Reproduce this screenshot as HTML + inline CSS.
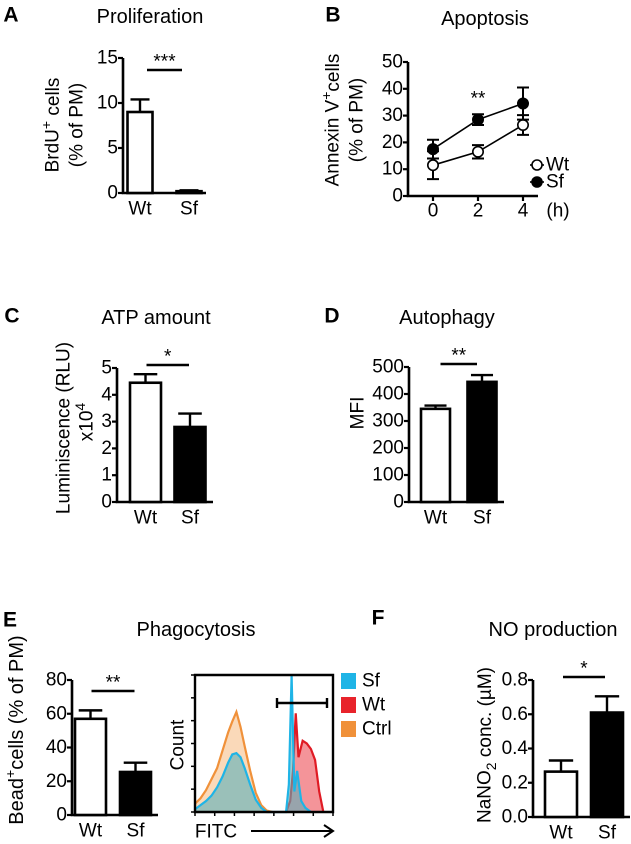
<!DOCTYPE html>
<html><head><meta charset="utf-8"><style>
html,body{margin:0;padding:0;background:#fff;}
svg{display:block;font-family:"Liberation Sans",Arial,sans-serif;}
</style></head><body>
<svg id="fig" width="631" height="844" viewBox="0 0 631 844" xmlns="http://www.w3.org/2000/svg"></svg>
<script>
// ---- data ----
const barCats = ['Wt','Sf'];
const aVals = [9, 0.2];
const aErrs = [1.4, 0.1];
const aTicks = [0,5,10,15];
const cVals = [4.45, 2.8];
const cErrs = [0.32, 0.5];
const cTicks = [0,1,2,3,4,5];
const dVals = [345, 445];
const dErrs = [12, 25];
const dTicks = [0,100,200,300,400,500];
const eVals = [57, 25.5];
const eErrs = [5, 5.5];
const eTicks = [0,20,40,60,80];
const fVals = [0.265, 0.61];
const fErrs = [0.065, 0.095];
const fTicks = ['0.0','0.2','0.4','0.6','0.8'];
const bTimes = [0,2,4];
const bTickLabels = ['0','2','4'];
const bWt = [11.5, 16.5, 26.5];
const bWtErr = [5.2, 2.5, 3.7];
const bSf = [17.5, 28.5, 34.5];
const bSfErr = [3.5, 2, 6];
const bYTicks = [0,10,20,30,40,50];
const histCtrlX = [0,4,8,12,16,20,24,27,30,33,36,40,44,48,52,56];
const histCtrlY = [6,10,16,24,32,45,58,66,73,62,48,30,14,5,1,0];
const histSfX = [0,4,8,12,16,20,24,27,30,33,36,40,44,48,52,66,68,70,72,74,77,80,84];
const histSfY = [2,5,8,12,18,26,36,42,43,40,32,20,9,3,0,0,20,100,15,30,8,3,0];
const histWtX = [66,69,71,73,75,78,81,84,87,90,93];
const histWtY = [0,8,30,72,40,52,50,46,38,15,0];

const svg = document.getElementById('fig');
const NS = 'http://www.w3.org/2000/svg';
function mk(tag, attrs, parent){
  const e = document.createElementNS(NS, tag);
  for (const k in attrs) e.setAttribute(k, attrs[k]);
  (parent||svg).appendChild(e);
  return e;
}
function txt(s, x, y, size, anchor, parent, weight, rot){
  const t = mk('text', {x:x, y:y, 'font-size':size, 'text-anchor':anchor||'middle', fill:'#000', 'dominant-baseline':'central'}, parent);
  if (weight) t.setAttribute('font-weight', weight);
  if (rot) t.setAttribute('transform', 'rotate(-90 '+x+' '+y+')');
  t.textContent = s;
  return t;
}

function barPanel(name, o, vals, errs, ticks){
  const g = mk('g', {});
  
  
  const tv = ticks.map(Number);
  const maxV = tv[tv.length-1];
  const y = v => o.y0 - (v/maxV)*(o.y0 - o.yTop);
  const ax = mk('path', {d:'M'+o.ax+' '+o.yTop+' V'+o.y0+' H'+o.xEnd, stroke:'#000','stroke-width':2.6, fill:'none'}, g);
  
  
  ticks.forEach((t,i)=>{
    const yy = y(tv[i]);
    mk('line', {x1:o.ax-5, x2:o.ax, y1:yy, y2:yy, stroke:'#000','stroke-width':2.2}, g);
    const lt = txt(String(t), o.ax-5, yy, 19, 'end', g);
    
    
  });
  vals.forEach((v,i)=>{
    const cx = o.c0 + i*o.sp;
    const r = mk('rect', {x:cx-o.bw/2, y:y(v), width:o.bw, height:o.y0-y(v), fill:i===0?'#fff':'#000', stroke:'#000','stroke-width':2.6}, g);
    
    
    const et = y(v+errs[i]);
    const eb = mk('path', {d:'M'+cx+' '+y(v)+' V'+et+' M'+(cx-o.bw*0.38)+' '+et+' H'+(cx+o.bw*0.38), stroke:'#000','stroke-width':2.4, fill:'none'}, g);
    
    
    const xl = txt(barCats[i], cx, o.y0+16, 19, 'middle', g);
    
    
  });
  const c0 = o.c0, c1 = o.c0 + o.sp;
  mk('line', {x1:c0+o.sigIn, x2:c1-o.sigIn, y1:o.sigY, y2:o.sigY, stroke:'#000','stroke-width':2.6}, g);
  const st = txt(o.sig, (c0+c1)/2, o.sigY-8, 19, 'middle', g);
  
  
  return g;
}

[['A',11,15],['B',333,15],['C',12,316],['D',332,316],['E',10,620],['F',378,618]].forEach(p=>{
  const t = txt(p[0], p[1], p[2], 21, 'middle', svg, 'bold');
  
  
});
[['Proliferation',150,17],['Apoptosis',485,19],['ATP amount',156,318],['Autophagy',447,318],['Phagocytosis',196,630],['NO production',553,630]].forEach(p=>{
  const t = txt(p[0], p[1], p[2], 20, 'middle');
  
  
});

barPanel('panel-a-proliferation', {ax:123, y0:193, yTop:58, xEnd:206, c0:140, sp:49, bw:25, sigY:70, sigIn:7, sig:'***'}, aVals, aErrs, aTicks);
let t;
t = mk('text', {x:0,y:0,'font-size':19,'text-anchor':'middle','dominant-baseline':'central',transform:'translate(53 125) rotate(-90)'});
t.innerHTML = 'BrdU<tspan dy="-7" font-size="14">+</tspan><tspan dy="7"> cells</tspan>';


t = txt('(% of PM)', 77, 125, 19, 'middle', svg, null, true);



barPanel('panel-c-atp', {ax:117, y0:502, yTop:368, xEnd:213, c0:145.5, sp:44.5, bw:31, sigY:365, sigIn:1, sig:'*'}, cVals, cErrs, cTicks);
t = txt('Luminiscence (RLU)', 64, 428, 19, 'middle', svg, null, true);


t = mk('text', {x:0,y:0,'font-size':19,'text-anchor':'middle','dominant-baseline':'central',transform:'translate(87 422) rotate(-90)'});
t.innerHTML = 'x10<tspan dy="-7" font-size="14">4</tspan>';



barPanel('panel-d-autophagy', {ax:409, y0:502, yTop:367, xEnd:504, c0:435.5, sp:46.5, bw:29, sigY:364, sigIn:5, sig:'**'}, dVals, dErrs, dTicks);
t = txt('MFI', 358, 413, 19, 'middle', svg, null, true);



barPanel('panel-e-phagocytosis', {ax:72, y0:815, yTop:680, xEnd:158, c0:90.5, sp:45, bw:31, sigY:691, sigIn:1, sig:'**'}, eVals, eErrs, eTicks);
t = mk('text', {x:0,y:0,'font-size':20,'text-anchor':'middle','dominant-baseline':'central',transform:'translate(17 730) rotate(-90)'});
t.innerHTML = 'Bead<tspan dy="-7" font-size="14">+</tspan><tspan dy="7">cells (% of PM)</tspan>';



barPanel('panel-f-no-production', {ax:533, y0:817, yTop:680, xEnd:630, c0:561, sp:46, bw:32, sigY:677, sigIn:2, sig:'*'}, fVals, fErrs, fTicks);
t = mk('text', {x:0,y:0,'font-size':19,'text-anchor':'middle','dominant-baseline':'central',transform:'translate(485 745) rotate(-90)'});
t.innerHTML = 'NaNO<tspan dy="6" font-size="14">2</tspan><tspan dy="-6"> conc. (µM)</tspan>';



(function(){
  const g = mk('g', {});
  
  
  const ax=408, y0=196, yTop=62, xEnd=538;
  const y = v => y0 - v/50*(y0-yTop);
  const x = h => 433 + h/4*(523-433);
  const a = mk('path', {d:'M'+ax+' '+yTop+' V'+y0+' H'+xEnd, stroke:'#000','stroke-width':2.6, fill:'none'}, g);
  
  
  bYTicks.forEach(v=>{
    mk('line',{x1:ax-5,x2:ax,y1:y(v),y2:y(v),stroke:'#000','stroke-width':2.2},g);
    const l = txt(String(v), ax-5, y(v), 19, 'end', g);
    
    
  });
  bTimes.forEach((h,i)=>{
    mk('line',{x1:x(h),x2:x(h),y1:y0,y2:y0+5,stroke:'#000','stroke-width':2.2},g);
    const l = txt(bTickLabels[i], x(h), 211, 19, 'middle', g);
    
    
  });
  const hl = txt('(h)', 558, 211, 19, 'middle', g);
  
  
  function series(vals, errs, fill, nm){
    const sg = mk('g',{},g);
    
    
    mk('polyline',{points:vals.map((v,i)=>x(bTimes[i])+','+y(v)).join(' '),fill:'none',stroke:'#000','stroke-width':1.6},sg);
    vals.forEach((v,i)=>{
      const cx=x(bTimes[i]);
      mk('path',{d:'M'+cx+' '+y(v-errs[i])+' V'+y(v+errs[i])+' M'+(cx-6)+' '+y(v-errs[i])+' H'+(cx+6)+' M'+(cx-6)+' '+y(v+errs[i])+' H'+(cx+6),stroke:'#000','stroke-width':2,fill:'none'},sg);
      const c = mk('circle',{cx:cx,cy:y(v),r:5.2,fill:fill,stroke:'#000','stroke-width':1.6},sg);
      
      
    });
  }
  series(bWt, bWtErr, '#fff', 'wt');
  series(bSf, bSfErr, '#000', 'sf');
  const s = txt('**', x(2), 99, 19, 'middle', g);
  
  
  [['Wt','#fff',165],['Sf','#000',182]].forEach(L=>{
    const lg = mk('g',{},g);
    
    
    mk('line',{x1:530,x2:544,y1:L[2],y2:L[2],stroke:'#000','stroke-width':1.6},lg);
    mk('circle',{cx:537,cy:L[2],r:5,fill:L[1],stroke:'#000','stroke-width':1.6},lg);
    txt(L[0],546,L[2],19,'start',lg);
  });
  let yt = mk('text', {x:0,y:0,'font-size':19,'text-anchor':'middle','dominant-baseline':'central',transform:'translate(333 120) rotate(-90)'});
  yt.innerHTML = 'Annexin V<tspan dy="-7" font-size="14">+</tspan><tspan dy="7">cells</tspan>';
  
  
  yt = txt('(% of PM)', 357, 120, 19, 'middle', svg, null, true);
  
  
})();

(function(){
  const g = mk('g', {});
  
  
  const L=195, R=333, T=675, B=812;
  const x = v => L + v/100*(R-L);
  const y = v => B - v/100*(B-T);
  function area(xs, ys, fill, stroke, nm){
    let d = 'M'+x(xs[0])+' '+B+' ';
    xs.forEach((v,i)=>{ d += 'L'+x(v)+' '+y(ys[i])+' '; });
    d += 'L'+x(xs[xs.length-1])+' '+B+' Z';
    const p = mk('path',{d:d,fill:fill,stroke:'none'},g);
    
    
    const l = mk('polyline',{points:xs.map((v,i)=>x(v)+','+y(ys[i])).join(' '),fill:'none',stroke:stroke,'stroke-width':2.2},g);
    
    
  }
  area(histCtrlX, histCtrlY, 'rgba(244,170,100,0.45)', '#f0913a', 'ctrl');
  area(histWtX, histWtY, 'rgba(235,60,70,0.55)', '#e01b24', 'wt');
  area(histSfX, histSfY, 'rgba(90,175,185,0.6)', '#1fb4e6', 'sf');
  const box = mk('path',{d:'M'+L+' '+T+' H'+R+' V'+B+' H'+L+' Z',fill:'none',stroke:'#000','stroke-width':2.4},g);
  
  
  for(let i=0;i<=6;i++){ const yy=T+i*(B-T)/6; mk('line',{x1:L-4,x2:L,y1:yy,y2:yy,stroke:'#000','stroke-width':1.5},g); }
  for(let i=0;i<=7;i++){ const xx=L+i*(R-L)/7; mk('line',{x1:xx,x2:xx,y1:B,y2:B+4,stroke:'#000','stroke-width':1.5},g); }
  const gate = mk('path',{d:'M277 703 H327 M277 698 V708 M327 698 V708',stroke:'#000','stroke-width':2.4,fill:'none'},g);
  
  
  [['Sf','#1fb4e6',681],['Wt','#e8232b',705],['Ctrl','#f0913a',729]].forEach(Lg=>{
    const lg = mk('g',{},g);
    
    
    mk('rect',{x:341,y:Lg[2]-8,width:15,height:16,fill:Lg[1]},lg);
    txt(Lg[0],362,Lg[2],19,'start',lg);
  });
  const c = txt('Count', 178, 745, 19, 'middle', svg, null, true);
  
  
  const f = txt('FITC', 216, 832, 19, 'middle');
  
  
  const ar = mk('path',{d:'M251 831 H333 M324 825 L333 831 L324 837',stroke:'#000','stroke-width':2,fill:'none'});
  
  
})();
</script>
</body></html>
